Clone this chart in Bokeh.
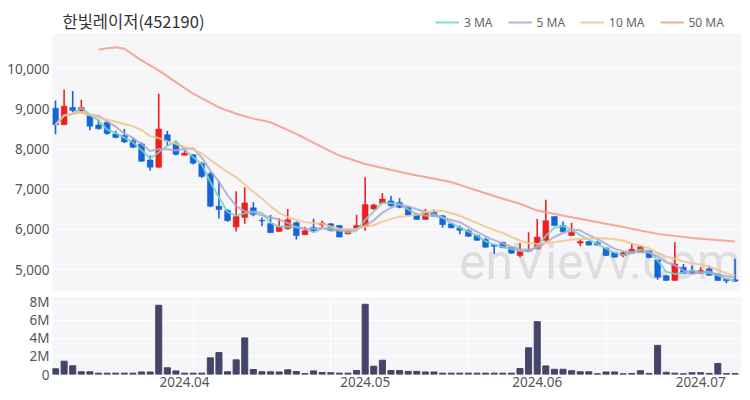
import pandas as pd
from bokeh.plotting import figure
from bokeh.models import (ColumnDataSource, FixedTicker, Legend, LegendItem, Label,
                          Range1d, NumeralTickFormatter)
from bokeh.core.properties import value
from bokeh.layouts import column
from bokeh.embed import file_html
from bokeh.resources import INLINE

# ---- data ----
title_text = "한빛레이저(452190)"
month_tick_idx = [15, 36, 56, 75]
month_tick_labels = ["2024.04", "2024.05", "2024.06", "2024.07"]
price_ticks = [5000, 6000, 7000, 8000, 9000, 10000]
vol_ticks = [0, 2e6, 4e6, 6e6, 8e6]
vol_tick_labels = ["0", "2M", "4M", "6M", "8M"]

opens = [9020, 8610, 9040, 8950, 8840, 8600, 8670, 8380, 8340, 8215,
         8130, 7730, 7550, 8360, 8130, 7845, 7860, 7640, 7385, 6580,
         6470, 6060, 6300, 6540, 6230, 6150, 5950, 6020, 6170, 5870,
         6050, 6110, 6140, 6100, 5890, 6010, 6090, 6510, 6650, 6710,
         6670, 6550, 6390, 6250, 6430, 6340, 6140, 6040, 5970, 5850,
         5750, 5620, 5680, 5560, 5350, 5460, 5520, 5730, 6320, 6100,
         5850, 5660, 5700, 5670, 5540, 5430, 5350, 5410, 5440, 5470,
         5240, 4850, 4730, 5060, 4980, 4910, 5020, 4890, 4770, 4750]
highs = [9210, 9480, 9450, 9230, 8880, 8740, 8680, 8460, 8500, 8280,
         8170, 7840, 9380, 8450, 8210, 7965, 7880, 7680, 7430, 7200,
         6510, 6950, 7050, 6680, 6300, 6360, 6280, 6510, 6200, 6070,
         6265, 6220, 6160, 6110, 6020, 6365, 7300, 6640, 6910, 6840,
         6780, 6570, 6400, 6510, 6500, 6360, 6150, 6100, 6010, 5870,
         5800, 5630, 5690, 5570, 5660, 5930, 6260, 6740, 6330, 6200,
         6170, 5770, 5710, 5720, 5550, 5440, 5460, 5640, 5610, 5480,
         5260, 4870, 5680, 5140, 5100, 5060, 5100, 4900, 4780, 5270]
lows = [8370, 8600, 8920, 8930, 8470, 8480, 8360, 8270, 8150, 8030,
        7680, 7470, 7540, 8070, 7840, 7840, 7620, 7280, 6555, 6270,
        6190, 5950, 6140, 6330, 6080, 5910, 5940, 5990, 5750, 5860,
        5930, 6050, 5950, 5800, 5880, 5990, 5970, 6490, 6640, 6570,
        6530, 6350, 6240, 6240, 6320, 6040, 6030, 5880, 5820, 5720,
        5550, 5390, 5540, 5400, 5310, 5450, 5500, 5660, 6080, 5930,
        5840, 5580, 5600, 5600, 5340, 5300, 5310, 5400, 5430, 5290,
        4750, 4720, 4720, 4890, 4890, 4900, 4850, 4720, 4660, 4700]
closes = [8610, 9070, 8960, 9040, 8570, 8510, 8390, 8290, 8180, 8050,
          7700, 7550, 8500, 8200, 7870, 7900, 7650, 7320, 6580, 6500,
          6220, 6320, 6660, 6370, 6210, 5920, 6070, 6240, 5850, 5970,
          5960, 6160, 5970, 5810, 6000, 6100, 6620, 6610, 6760, 6590,
          6550, 6360, 6250, 6430, 6330, 6120, 6040, 5980, 5830, 5730,
          5560, 5580, 5545, 5410, 5450, 5490, 5810, 6220, 6100, 5940,
          5930, 5700, 5610, 5610, 5350, 5310, 5420, 5510, 5570, 5300,
          4810, 4730, 5140, 4900, 4900, 4980, 4860, 4730, 4720, 4710]
volumes_m = [0.63, 1.47, 0.96, 0.30, 0.30, 0.15, 0.15, 0.15, 0.15, 0.15,
             0.28, 0.28, 7.66, 0.74, 0.40, 0.15, 0.15, 0.15, 1.84, 2.43,
             0.30, 1.62, 4.05, 0.55, 0.30, 0.30, 0.28, 0.52, 0.33, 0.10,
             0.40, 0.22, 0.20, 0.15, 0.15, 0.44, 7.77, 0.92, 1.58, 0.44,
             0.44, 0.35, 0.35, 0.28, 0.28, 0.15, 0.15, 0.15, 0.15, 0.15,
             0.15, 0.15, 0.15, 0.15, 0.66, 2.95, 5.85, 0.95, 0.58, 0.58,
             0.42, 0.30, 0.30, 0.08, 0.28, 0.28, 0.08, 0.12, 0.42, 0.12,
             3.22, 0.25, 0.15, 0.08, 0.20, 0.20, 0.12, 1.22, 0.10, 0.10]
ma50_idx = [5, 7, 8, 10, 12, 14, 16, 19, 21, 23, 25, 28, 31, 33, 36, 41,
            46, 49, 52, 54, 56, 60, 64, 67, 70, 74, 79]
ma50_val = [10480, 10540, 10500, 10210, 9960, 9670, 9380, 9040, 8880, 8760,
            8670, 8380, 8050, 7840, 7630, 7385, 7180, 6970, 6765, 6640,
            6470, 6305, 6140, 6016, 5890, 5790, 5700]
ma_labels = ["3 MA", "5 MA", "10 MA", "50 MA"]

UP = "#f01e1e"
DOWN = "#1565d8"
MA_COLORS = ["#72d3c6", "#b2a5cf", "#f2c48e", "#f59a88"]
KFONT = "Noto Sans CJK KR"
FONT = "Noto Sans"
BG = "#f6f6f8"
LBL = "#555555"
W = 750
BL = 52   # left border (y-axis area)
BR = 9
FW = W - BL - BR   # frame width
HH = 33   # header height

n = len(closes)
idx = list(range(n))
cs = pd.Series(closes, dtype=float)
ma3 = cs.rolling(3, min_periods=1).mean().tolist()
ma5 = cs.rolling(5, min_periods=1).mean().tolist()
ma10 = cs.rolling(10, min_periods=1).mean().tolist()

colors = [UP if c >= o else DOWN for o, c in zip(opens, closes)]
src = ColumnDataSource(dict(
    x=idx, o=opens, h=highs, l=lows, c=closes,
    top=[max(o, c) for o, c in zip(opens, closes)],
    bot=[min(o, c) for o, c in zip(opens, closes)],
    color=colors, ma3=ma3, ma5=ma5, ma10=ma10,
    vol=[vv * 1e6 for vv in volumes_m]))

# ---- header: title + legend (frame aligned with the panels below) ----
hdr = figure(width=W, height=HH, x_range=Range1d(0, FW), y_range=Range1d(0, HH),
             x_axis_type=None, y_axis_type=None, output_backend="svg",
             toolbar_location=None, min_border_left=BL, min_border_right=BR,
             min_border_top=0, min_border_bottom=0)
hdr.outline_line_color = None
hdr.grid.visible = False
hdr.background_fill_color = "white"
hdr.border_fill_color = "white"
hdr.text(x=[10], y=[13], text=[title_text], text_font=value(KFONT),
         text_font_size="16.5px", text_color="#333333", text_baseline="middle")
dummies = [hdr.line([-50, -40], [-50, -50], color=c, line_width=2, line_alpha=0.85)
           for c in MA_COLORS]
legend = Legend(items=[LegendItem(label=lab, renderers=[r]) for lab, r in zip(ma_labels, dummies)],
                orientation="horizontal", location=(383, 2),
                background_fill_alpha=0, border_line_alpha=0,
                label_text_font=FONT, label_text_font_size="12px",
                label_text_color="#666666", glyph_width=24, glyph_height=12,
                label_standoff=5, spacing=15, padding=0, margin=0, label_height=18)
hdr.add_layout(legend)

# ---- price panel ----
xr = Range1d(-0.35, 79.75)
p = figure(width=W, height=258, x_range=xr, y_range=Range1d(4455, 10880),
           x_axis_type=None, output_backend="svg", toolbar_location=None,
           min_border_left=BL, min_border_right=BR, min_border_top=0, min_border_bottom=0)
p.background_fill_color = BG
p.border_fill_color = "white"
p.outline_line_color = None
p.yaxis.ticker = FixedTicker(ticks=price_ticks)
p.yaxis.formatter = NumeralTickFormatter(format="0,0")
p.yaxis.axis_line_color = None
p.yaxis.major_tick_line_color = None
p.yaxis.minor_tick_line_color = None
p.yaxis.major_tick_out = 0
p.yaxis.major_tick_in = 0
p.yaxis.major_label_standoff = 3
p.yaxis.major_label_text_font = FONT
p.yaxis.major_label_text_font_size = "13.5px"
p.yaxis.major_label_text_color = LBL
p.ygrid.grid_line_color = "white"
p.ygrid.grid_line_width = 1
p.xgrid.ticker = FixedTicker(ticks=[16, 32, 48, 64])
p.xgrid.grid_line_color = "white"
p.xgrid.grid_line_width = 1

wm = Label(x=46.9, y=4470, text="enVievv.com", text_font="Roboto",
           text_font_size="50px", text_color="#d4d4d6", text_alpha=0.7,
           level="underlay")
p.add_layout(wm)

p.segment(x0="x", y0="l", x1="x", y1="h", color="color", line_width=1.6, source=src)
p.vbar(x="x", top="top", bottom="bot", width=0.68, fill_color="color",
       line_color="color", line_width=0.5, source=src)
p.line("x", "ma3", source=src, color=MA_COLORS[0], line_width=2, line_alpha=0.85)
p.line("x", "ma5", source=src, color=MA_COLORS[1], line_width=2, line_alpha=0.85)
p.line("x", "ma10", source=src, color=MA_COLORS[2], line_width=2, line_alpha=0.85)
p.line(ma50_idx, ma50_val, color=MA_COLORS[3], line_width=2, line_alpha=0.85)

# ---- volume panel ----
v = figure(width=W, height=109, x_range=xr, y_range=Range1d(0, 8.52e6),
           output_backend="svg", toolbar_location=None,
           min_border_left=BL, min_border_right=BR, min_border_top=6, min_border_bottom=26)
v.background_fill_color = BG
v.border_fill_color = "white"
v.outline_line_color = None
v.vbar(x="x", top="vol", width=0.7, color="#45446a", source=src)
v.yaxis.ticker = FixedTicker(ticks=vol_ticks)
v.yaxis.major_label_overrides = {int(t): lab for t, lab in zip(vol_ticks, vol_tick_labels)}
v.xaxis.ticker = FixedTicker(ticks=month_tick_idx)
v.xaxis.major_label_overrides = {i: lab for i, lab in zip(month_tick_idx, month_tick_labels)}
for ax in (v.xaxis, v.yaxis):
    ax.axis_line_color = None
    ax.major_tick_line_color = None
    ax.minor_tick_line_color = None
    ax.major_tick_out = 0
    ax.major_tick_in = 0
    ax.major_label_text_font = FONT
    ax.major_label_text_font_size = "13.5px"
    ax.major_label_text_color = LBL
v.yaxis.major_label_standoff = 3
v.xaxis.major_label_standoff = 2
v.ygrid.grid_line_color = "white"
v.xgrid.ticker = FixedTicker(ticks=[16, 32, 48, 64])
v.xgrid.grid_line_color = "white"

layout = column(hdr, p, v, spacing=0)
open("out.html", "w").write(file_html(layout, INLINE))
